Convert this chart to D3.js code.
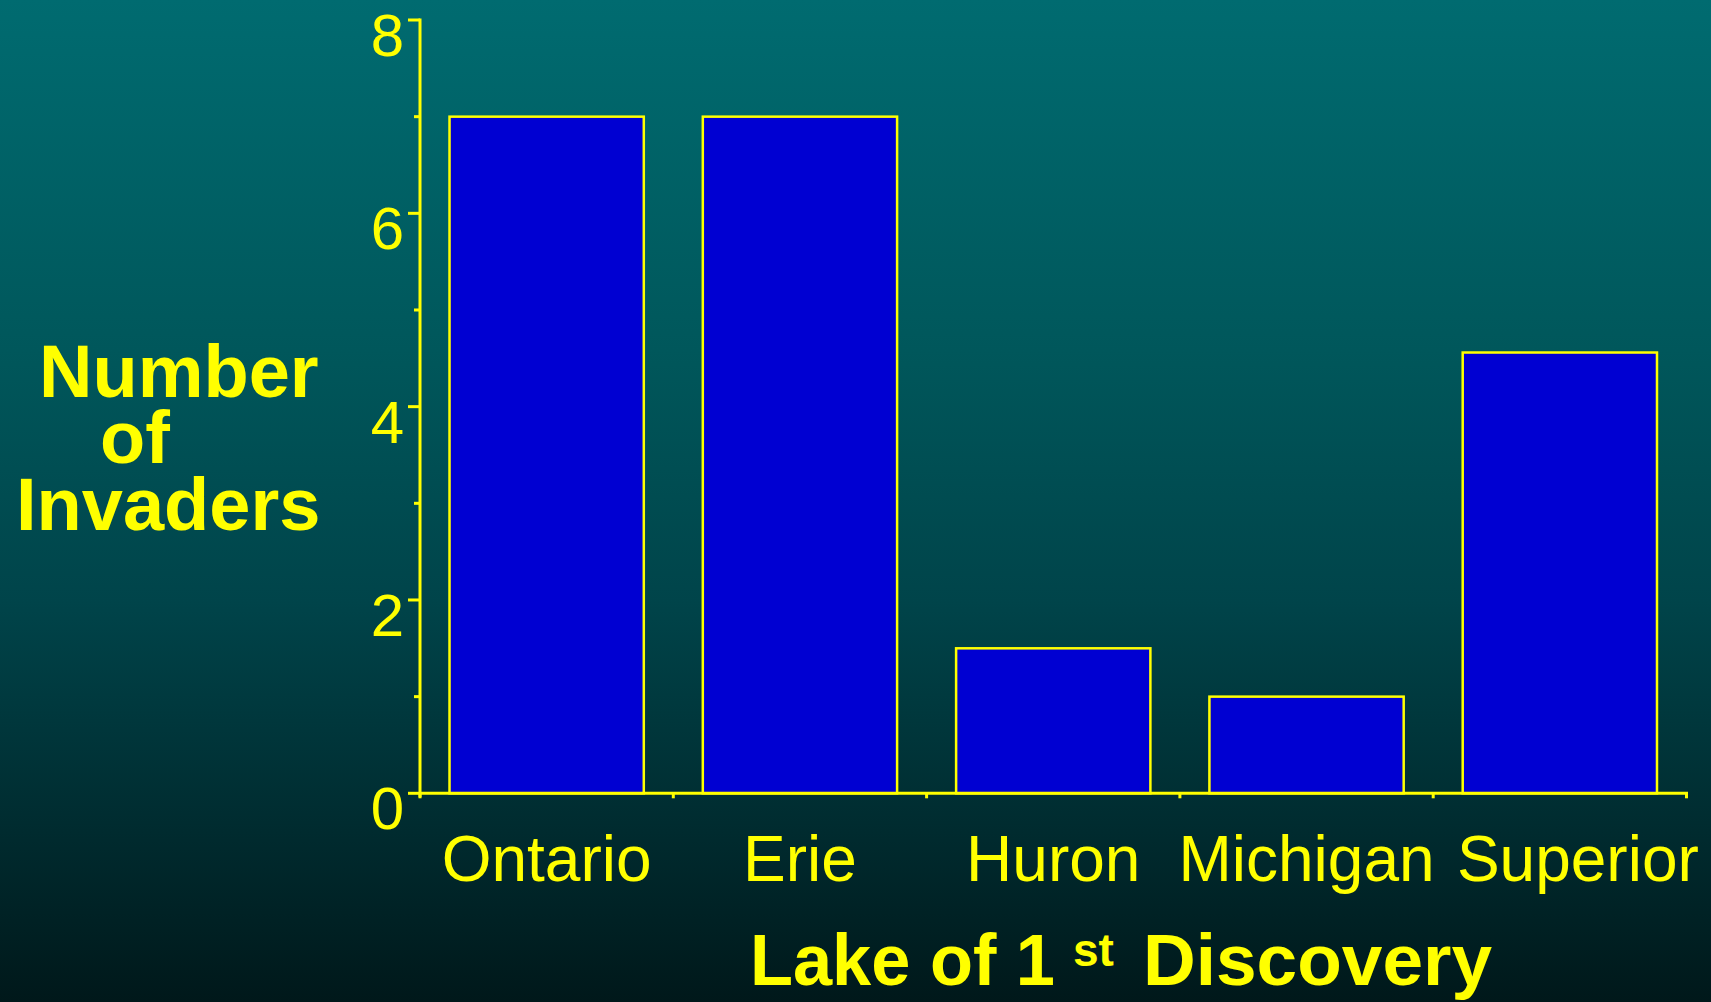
<!DOCTYPE html>
<html>
<head>
<meta charset="utf-8">
<script src="https://cdn.jsdelivr.net/npm/d3@7"></script>
<style>
  html, body { margin: 0; padding: 0; overflow: hidden; background: #001a1c; }
  svg { display: block; }
  text { font-family: "Liberation Sans", Arial, Helvetica, sans-serif; fill: #ffff00; }
</style>
</head>
<body>
<svg id="chart" width="1711" height="1002"></svg>
<script>
// Invasive species counted by the Great Lake where each was first discovered
const lakes = ["Ontario", "Erie", "Huron", "Michigan", "Superior"];
const invaders = [7, 7, 1.5, 1, 4.56];
const majorTicks = [0, 2, 4, 6, 8];
const minorTicks = [1, 3, 5, 7];

const W = 1711, H = 1002;
const yellow = "#ffff00";
const svg = d3.select("#chart");

// slide-style teal background fading to near black
const defs = svg.append("defs");
const grad = defs.append("linearGradient")
  .attr("id", "bg").attr("x1", 0).attr("y1", 0).attr("x2", 0).attr("y2", 1);
[[0, "#006b70"], [0.35, "#00575b"], [0.6, "#00444a"], [0.83, "#002b2f"], [1, "#00181a"]]
  .forEach(([o, c]) => grad.append("stop").attr("offset", o).attr("stop-color", c));
svg.append("rect").attr("width", W).attr("height", H).attr("fill", "url(#bg)");

const plot = { left: 420, right: 1686.5, top: 20, bottom: 793.3 };

const x = d3.scaleBand()
  .domain(lakes)
  .range([plot.left, plot.right])
  .paddingInner(0.233)
  .paddingOuter(0.233 / 2);

const y = d3.scaleLinear().domain([0, 8]).range([plot.bottom, plot.top]);

// bars
svg.append("g").selectAll("rect")
  .data(lakes.map((d, i) => ({ lake: d, v: invaders[i] })))
  .join("rect")
  .attr("x", d => x(d.lake))
  .attr("y", d => y(d.v))
  .attr("width", x.bandwidth())
  .attr("height", d => y(0) - y(d.v))
  .attr("fill", "#0000d2")
  .attr("stroke", yellow)
  .attr("stroke-width", 2.5);

// y axis: line, major and minor ticks
const yAxis = svg.append("g").attr("stroke", yellow).attr("stroke-width", 3);
yAxis.append("line")
  .attr("x1", plot.left).attr("x2", plot.left)
  .attr("y1", y(8) - 1.5).attr("y2", plot.bottom + 4);
yAxis.selectAll(".maj").data(majorTicks).join("line")
  .attr("x1", plot.left - 12).attr("x2", plot.left)
  .attr("y1", d => y(d)).attr("y2", d => y(d));
yAxis.selectAll(".min").data(minorTicks).join("line")
  .attr("x1", plot.left - 6).attr("x2", plot.left)
  .attr("y1", d => y(d)).attr("y2", d => y(d));

svg.append("g").selectAll("text").data(majorTicks).join("text")
  .attr("x", 404)
  .attr("y", d => y(d) + 36)
  .attr("text-anchor", "end")
  .attr("font-size", 60)
  .text(d => d);

// x axis: baseline with ticks on the category boundaries
const step = x.step();
const bounds = lakes.map(d => x(d) - x.paddingInner() * step / 2).concat([plot.right]);
const xAxis = svg.append("g").attr("stroke", yellow).attr("stroke-width", 3);
xAxis.append("line")
  .attr("x1", plot.left).attr("x2", plot.right + 1.5)
  .attr("y1", plot.bottom).attr("y2", plot.bottom);
xAxis.selectAll(".tk").data(bounds).join("line")
  .attr("x1", d => d).attr("x2", d => d)
  .attr("y1", plot.bottom).attr("y2", plot.bottom + 5);

const labelNudge = { Superior: 18 };
svg.append("g").selectAll("text").data(lakes).join("text")
  .attr("x", d => x(d) + x.bandwidth() / 2 + (labelNudge[d] || 0))
  .attr("y", 881)
  .attr("text-anchor", "middle")
  .attr("font-size", 64)
  .text(d => d);

// y axis title
const yTitle = svg.append("g").attr("font-weight", "bold").attr("font-size", 74);
[["Number", 39, 397], ["of", 100, 463], ["Invaders", 16, 530]].forEach(([t, tx, ty]) =>
  yTitle.append("text").attr("x", tx).attr("y", ty).text(t));

// x axis title with superscript ordinal
const xTitle = svg.append("g").attr("font-weight", "bold");
xTitle.append("text").attr("x", 750).attr("y", 985).attr("font-size", 72)
  .attr("textLength", 305).attr("lengthAdjust", "spacingAndGlyphs").text("Lake of 1");
xTitle.append("text").attr("x", 1073).attr("y", 966).attr("font-size", 46).text("st");
xTitle.append("text").attr("x", 1143).attr("y", 985).attr("font-size", 73).text("Discovery");
</script>
</body>
</html>
